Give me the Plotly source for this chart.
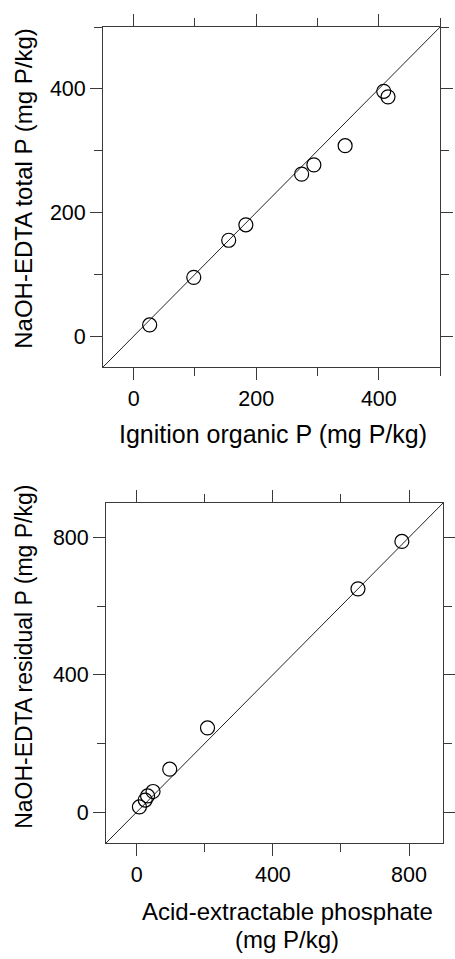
import plotly.graph_objects as go

# ---- data ----
ignition_organic_p = [26, 98, 155, 183, 274, 294, 345, 408, 415]
edta_total_p = [18, 95, 155, 180, 262, 277, 308, 396, 387]

acid_extractable_p = [8, 25, 32, 48, 97, 208, 650, 779]
edta_residual_p = [15, 35, 47, 60, 125, 245, 650, 788]

top_range = [-50, 500]
bot_range = [-90, 900]
top_major = [0, 200, 400]
bot_major = [0, 400, 800]
top_minor_step = 100
bot_minor_step = 200

FONT = "Liberation Sans, Arial, Helvetica, sans-serif"
FRAME = "#3a3a3a"
W, H = 455, 959

top_xdom = [104 / W, 444 / W]
top_ydom = [(H - 367) / H, (H - 27) / H]
bot_xdom = [107 / W, 447 / W]
bot_ydom = [(H - 843) / H, (H - 503) / H]


def ax(rng, major, step, labels=True, **kw):
    d = dict(
        range=rng, showline=True, linecolor=FRAME, linewidth=1,
        ticks="outside", ticklen=12, tickwidth=1, tickcolor=FRAME,
        tickmode="array", tickvals=major, ticktext=[str(v) for v in major],
        showticklabels=labels,
        minor=dict(ticks="outside", tickmode="linear", tick0=0, dtick=step,
                   ticklen=8, tickwidth=1, tickcolor=FRAME, showgrid=False),
        showgrid=False, zeroline=False, fixedrange=True,
        tickfont=dict(family=FONT, size=21.5, color="black"),
    )
    d.update(kw)
    return d


fig = go.Figure()

marker = dict(symbol="circle-open", size=14, color="black", line=dict(width=1.2, color="black"))
line = dict(color="#222222", width=1)

# top panel
fig.add_trace(go.Scatter(x=top_range, y=top_range, mode="lines", line=line,
                         xaxis="x", yaxis="y", showlegend=False, hoverinfo="skip"))
fig.add_trace(go.Scatter(x=ignition_organic_p, y=edta_total_p, mode="markers", marker=marker,
                         xaxis="x", yaxis="y", showlegend=False))
# bottom panel
fig.add_trace(go.Scatter(x=bot_range, y=bot_range, mode="lines", line=line,
                         xaxis="x2", yaxis="y2", showlegend=False, hoverinfo="skip"))
fig.add_trace(go.Scatter(x=acid_extractable_p, y=edta_residual_p, mode="markers", marker=marker,
                         xaxis="x2", yaxis="y2", showlegend=False))
# empty traces to activate mirrored tick axes
for xa, ya in [("x3", "y"), ("x", "y3"), ("x4", "y2"), ("x2", "y4")]:
    fig.add_trace(go.Scatter(x=[None], y=[None], xaxis=xa, yaxis=ya,
                             showlegend=False, hoverinfo="skip"))

fig.update_layout(
    width=W, height=H,
    margin=dict(l=0, r=0, t=0, b=0),
    paper_bgcolor="white", plot_bgcolor="white",
    font=dict(family=FONT, color="black"),
    xaxis=ax(top_range, top_major, top_minor_step, domain=top_xdom, anchor="y"),
    yaxis=ax(top_range, top_major, top_minor_step, domain=top_ydom, anchor="x"),
    xaxis3=ax(top_range, top_major, top_minor_step, labels=False, overlaying="x", side="top", anchor="y"),
    yaxis3=ax(top_range, top_major, top_minor_step, labels=False, overlaying="y", side="right", anchor="x"),
    xaxis2=ax(bot_range, bot_major, bot_minor_step, domain=bot_xdom, anchor="y2"),
    yaxis2=ax(bot_range, bot_major, bot_minor_step, domain=bot_ydom, anchor="x2"),
    xaxis4=ax(bot_range, bot_major, bot_minor_step, labels=False, overlaying="x2", side="top", anchor="y2"),
    yaxis4=ax(bot_range, bot_major, bot_minor_step, labels=False, overlaying="y2", side="right", anchor="x2"),
)

title_font = dict(family=FONT, size=25, color="black")
title2_font = dict(family=FONT, size=24, color="black")
annots = [
    dict(text="Ignition organic P (mg P/kg)", x=275 / W, y=(H - 434) / H, font=title_font, textangle=0),
    dict(text="Acid-extractable phosphate", x=290 / W, y=(H - 911) / H, font=title2_font, textangle=0),
    dict(text="(mg P/kg)", x=290 / W, y=(H - 939) / H, font=title2_font, textangle=0),
    dict(text="NaOH-EDTA total P (mg P/kg)", x=24 / W, y=(H - 188) / H,
         font=dict(family=FONT, size=24, color="black"), textangle=-90),
    dict(text="NaOH-EDTA residual P (mg P/kg)", x=24 / W, y=(H - 657) / H,
         font=dict(family=FONT, size=23, color="black"), textangle=-90),
]
for a in annots:
    fig.add_annotation(xref="paper", yref="paper", showarrow=False,
                       xanchor="center", yanchor="middle", **a)

fig.write_html("out.html")
